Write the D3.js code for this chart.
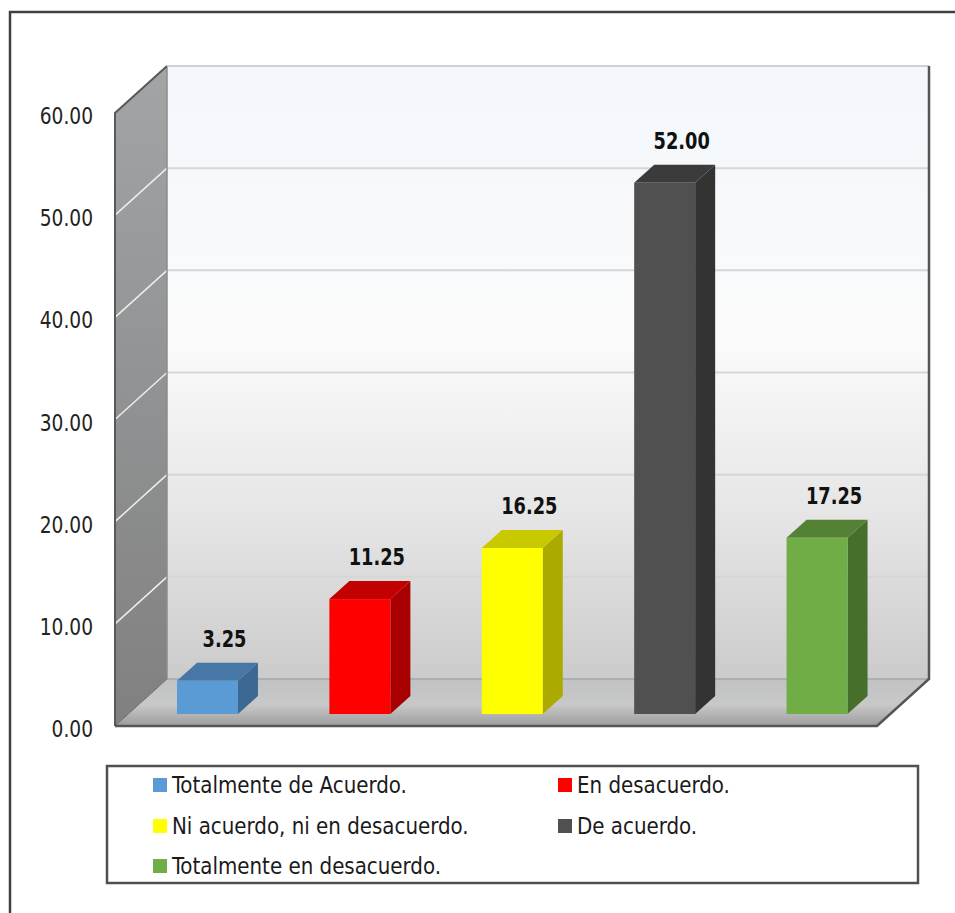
<!DOCTYPE html>
<html><head><meta charset="utf-8">
<script src="https://cdn.jsdelivr.net/npm/d3@7"></script>
<style>
html,body{margin:0;padding:0;background:#fff;}
svg{display:block;}
text{font-family:"Liberation Sans Narrow","DejaVu Sans Condensed","Arial Narrow",sans-serif;}
</style></head>
<body>
<script>
const categories = ["Totalmente de Acuerdo.","En desacuerdo.","Ni acuerdo, ni en desacuerdo.","De acuerdo.","Totalmente en desacuerdo."];
const values = [3.25, 11.25, 16.25, 52.00, 17.25];
const frontColors = ["#5b9bd5","#ff0000","#ffff00","#505050","#70ad47"];
const topColors = ["#4677a6","#c20000","#c9c900","#3b3b3b","#548235"];
const sideColors = ["#3d6891","#a80000","#aaaa00","#333333","#476f2c"];
const yTicks = [0,10,20,30,40,50,60];

const W = 955, H = 913;
const svg = d3.select("body").append("svg").attr("width", W).attr("height", H);
const defs = svg.append("defs");

// 3D projection parameters
const DX = 52, DY = 47;
const y = d3.scaleLinear().domain([0, 60]).range([726, 113]);
const x = d3.scaleBand().domain(categories).range([118, 880]).paddingInner(0.6).paddingOuter(0.3);
const px = (sx, z) => sx + z * DX;
const py = (v, z) => y(v) - z * DY;
const zF = 0.255, zB = 0.64;

// outer frame
svg.append("rect").attr("x", 10).attr("y", 12).attr("width", 970).attr("height", 930)
  .attr("fill", "#fff").attr("stroke", "#404040").attr("stroke-width", 2.5);

// gradients
const gBack = defs.append("linearGradient").attr("id", "gBack").attr("x1", 0).attr("y1", 0).attr("x2", 0).attr("y2", 1);
gBack.append("stop").attr("offset", "0%").attr("stop-color", "#f3f7fc");
gBack.append("stop").attr("offset", "45%").attr("stop-color", "#fbfbfb");
gBack.append("stop").attr("offset", "75%").attr("stop-color", "#e4e4e4");
gBack.append("stop").attr("offset", "100%").attr("stop-color", "#cbcbcb");
const gLeft = defs.append("linearGradient").attr("id", "gLeft").attr("x1", 0).attr("y1", 0).attr("x2", 0).attr("y2", 1);
gLeft.append("stop").attr("offset", "0%").attr("stop-color", "#a2a4a6");
gLeft.append("stop").attr("offset", "100%").attr("stop-color", "#808080");
const gFloor = defs.append("linearGradient").attr("id", "gFloor").attr("x1", 0).attr("y1", 0).attr("x2", 0).attr("y2", 1);
gFloor.append("stop").attr("offset", "0%").attr("stop-color", "#c0c2c4");
gFloor.append("stop").attr("offset", "55%").attr("stop-color", "#c8c8c8");
gFloor.append("stop").attr("offset", "100%").attr("stop-color", "#9c9c9c");

const x0 = 115, x1 = 877;
const line = d3.line();

// back wall
svg.append("path").attr("d", line([[px(x0,1), py(60,1)], [px(x1,1), py(60,1)], [px(x1,1), py(0,1)], [px(x0,1), py(0,1)]]) + "Z")
  .attr("fill", "url(#gBack)");
// left wall
svg.append("path").attr("d", line([[x0, y(60)], [px(x0,1), py(60,1)], [px(x0,1), py(0,1)], [x0, y(0)]]) + "Z")
  .attr("fill", "url(#gLeft)");
// floor
svg.append("path").attr("d", line([[x0, y(0)], [px(x0,1), py(0,1)], [px(x1,1), py(0,1)], [x1, y(0)]]) + "Z")
  .attr("fill", "url(#gFloor)");

// gridlines on back wall
svg.append("g").selectAll("line").data(yTicks.filter(d => d > 0)).join("line")
  .attr("x1", px(x0,1)).attr("x2", px(x1,1))
  .attr("y1", d => py(d,1)).attr("y2", d => py(d,1))
  .attr("stroke", "#d6d6d6").attr("stroke-width", 2);
// gridlines on left wall
svg.append("g").selectAll("line").data(yTicks.filter(d => d > 0 && d < 60)).join("line")
  .attr("x1", x0).attr("x2", px(x0,1))
  .attr("y1", d => y(d)).attr("y2", d => py(d,1))
  .attr("stroke", "#eeeeee").attr("stroke-width", 1.5);
// back wall / floor junction
svg.append("line").attr("x1", px(x0,1)).attr("x2", px(x1,1)).attr("y1", py(0,1)).attr("y2", py(0,1))
  .attr("stroke", "#a6a6a6").attr("stroke-width", 1.5);
// left wall back edge
svg.append("line").attr("x1", px(x0,1)).attr("x2", px(x0,1)).attr("y1", py(60,1)).attr("y2", py(0,1))
  .attr("stroke", "#8c8c8c").attr("stroke-width", 1.5);
// left-wall / floor junction
svg.append("line").attr("x1", x0).attr("x2", px(x0,1)).attr("y1", y(0)).attr("y2", py(0,1))
  .attr("stroke", "#6b6b6b").attr("stroke-width", 1);

// bars
const bw = x.bandwidth();
const bars = svg.append("g").selectAll("g").data(categories).join("g");
bars.each(function(c, i) {
  const g = d3.select(this);
  const v = values[i];
  const xl = px(x(c), zF), xr = xl + bw;
  const yb = py(0, zF), yt = py(v, zF);
  const ddx = (zB - zF) * DX, ddy = (zB - zF) * DY;
  // side
  g.append("path").attr("d", line([[xr, yt], [xr + ddx, yt - ddy], [xr + ddx, yb - ddy], [xr, yb]]) + "Z")
    .attr("fill", sideColors[i]);
  // top
  g.append("path").attr("d", line([[xl, yt], [xl + ddx, yt - ddy], [xr + ddx, yt - ddy], [xr, yt]]) + "Z")
    .attr("fill", topColors[i]);
  // front
  g.append("rect").attr("x", xl).attr("y", yt).attr("width", bw).attr("height", yb - yt)
    .attr("fill", frontColors[i]);
  // label
  g.append("text")
    .attr("transform", `translate(${xl + bw / 2 + 17},${yt - ddy - 16}) scale(0.86,1)`)
    .attr("text-anchor", "middle").attr("font-size", 23).attr("font-weight", "bold")
    .attr("fill", "#111")
    .text(d3.format(".2f")(v));
});

// edges
svg.append("path").attr("d", line([[x0, y(0)], [x0, y(60)], [px(x0,1), py(60,1)]]))
  .attr("fill", "none").attr("stroke", "#595959").attr("stroke-width", 2);
svg.append("line").attr("x1", px(x0,1)).attr("x2", px(x1,1)).attr("y1", py(60,1)).attr("y2", py(60,1))
  .attr("stroke", "#d0d0d0").attr("stroke-width", 2);
svg.append("path").attr("d", line([[x0, y(0)], [x1, y(0)], [px(x1,1), py(0,1)], [px(x1,1), py(60,1)]]))
  .attr("fill", "none").attr("stroke", "#555555").attr("stroke-width", 2.5);

// y-axis labels
svg.append("g").selectAll("text").data(yTicks).join("text")
  .attr("transform", d => `translate(93,${y(d) + 3}) scale(0.9,1)`).attr("dy", "0.35em")
  .attr("text-anchor", "end").attr("font-size", 23).attr("fill", "#222")
  .text(d => d3.format(".2f")(d));

// legend
const lg = svg.append("g");
lg.append("rect").attr("x", 107).attr("y", 766).attr("width", 811).attr("height", 117)
  .attr("fill", "#fff").attr("stroke", "#505050").attr("stroke-width", 2.5);
const colX = [153, 558], rowY = [785, 826, 866];
categories.forEach((c, i) => {
  const cx = colX[i % 2], cy = rowY[Math.floor(i / 2)];
  lg.append("rect").attr("x", cx).attr("y", cy - 7).attr("width", 14).attr("height", 14).attr("fill", frontColors[i]);
  lg.append("text").attr("transform", `translate(${cx + 19},${cy}) scale(0.96,1)`).attr("dy", "0.35em")
    .attr("font-size", 23).attr("fill", "#1a1a1a").text(c);
});
</script>
</body></html>
